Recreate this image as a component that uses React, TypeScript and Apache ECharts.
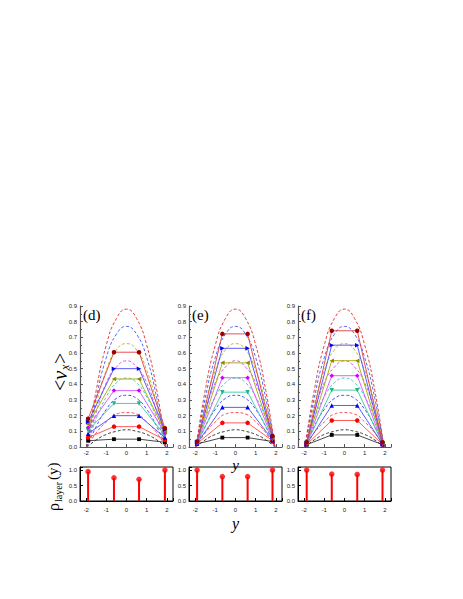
import React, { useEffect, useRef } from 'react';
import * as echarts from 'echarts';

// ---------- data ----------
const PANEL_NAMES = ['(d)', '(e)', '(f)'];

// dashed theory profiles (identical in the three panels), sampled along y
const CURVE_Y = [-1.95, -1.5, -1.0, -0.5, 0, 0.5, 1.0, 1.5, 1.95];
const CURVE_011 = [0, 0.045, 0.08, 0.1, 0.11, 0.1, 0.08, 0.045, 0];
const CURVE_022 = [0, 0.09, 0.16, 0.21, 0.22, 0.21, 0.16, 0.09, 0];
const CURVE_033 = [0, 0.13, 0.24, 0.31, 0.33, 0.31, 0.24, 0.13, 0];
const CURVE_044 = [0, 0.18, 0.32, 0.41, 0.44, 0.41, 0.32, 0.18, 0];
const CURVE_055 = [0, 0.22, 0.41, 0.51, 0.55, 0.51, 0.41, 0.22, 0];
const CURVE_066 = [0, 0.27, 0.49, 0.62, 0.66, 0.62, 0.49, 0.27, 0];
const CURVE_077 = [0, 0.31, 0.57, 0.72, 0.77, 0.72, 0.57, 0.31, 0];
const CURVE_088 = [0, 0.36, 0.65, 0.82, 0.88, 0.82, 0.65, 0.36, 0];
const CURVES = [CURVE_011, CURVE_022, CURVE_033, CURVE_044, CURVE_055, CURVE_066, CURVE_077, CURVE_088];

// layer positions (y) for each panel
const LAYER_Y_D = [-1.9, -0.62, 0.62, 1.9];
const LAYER_Y_E = [-1.9, -0.65, 0.6, 1.83];
const LAYER_Y_F = [-1.87, -0.63, 0.63, 1.88];

// simulated <v_x> per layer, series from bottom (square) to top (dark red)
const VX_D = [
  [0.04, 0.05, 0.05, 0.03],
  [0.06, 0.13, 0.13, 0.045],
  [0.085, 0.2, 0.2, 0.06],
  [0.105, 0.278, 0.278, 0.075],
  [0.125, 0.36, 0.36, 0.09],
  [0.145, 0.434, 0.434, 0.1],
  [0.16, 0.5, 0.5, 0.11],
  [0.18, 0.605, 0.605, 0.12],
];
const VX_E = [
  [0.02, 0.06, 0.06, 0.035],
  [0.022, 0.154, 0.154, 0.04],
  [0.024, 0.253, 0.253, 0.045],
  [0.026, 0.35, 0.35, 0.05],
  [0.028, 0.442, 0.442, 0.055],
  [0.03, 0.537, 0.537, 0.06],
  [0.032, 0.63, 0.63, 0.065],
  [0.035, 0.722, 0.722, 0.07],
];
const VX_F = [
  [0.015, 0.077, 0.077, 0.015],
  [0.017, 0.169, 0.169, 0.017],
  [0.019, 0.265, 0.265, 0.019],
  [0.021, 0.363, 0.363, 0.021],
  [0.023, 0.455, 0.455, 0.023],
  [0.025, 0.551, 0.551, 0.025],
  [0.027, 0.65, 0.65, 0.027],
  [0.03, 0.742, 0.742, 0.03],
];

// layer densities
const RHO_D = [0.95, 0.75, 0.7, 1.0];
const RHO_E = [1.0, 0.79, 0.79, 1.0];
const RHO_F = [1.0, 0.87, 0.86, 1.0];

const PANELS = [
  { ys: LAYER_Y_D, vx: VX_D, rho: RHO_D },
  { ys: LAYER_Y_E, vx: VX_E, rho: RHO_E },
  { ys: LAYER_Y_F, vx: VX_F, rho: RHO_F },
];

// ---------- styles ----------
const CURVE_COLORS = ['#222222', '#ff3b3b', '#3a3aff', '#2ccaa0', '#d23cff', '#b4b400', '#3a55ff', '#e02a2a'];
const MARKERS = [
  { symbol: 'rect', rotate: 0, color: '#000000', line: '#333333' },
  { symbol: 'circle', rotate: 0, color: '#ff0000', line: '#ff4a4a' },
  { symbol: 'triangle', rotate: 0, color: '#0000ff', line: '#4a4aff' },
  { symbol: 'triangle', rotate: 180, color: '#20b48c', line: '#3cc8a0' },
  { symbol: 'diamond', rotate: 0, color: '#cc00ff', line: '#d850ff' },
  { symbol: 'triangle', rotate: 90, color: '#8c8c00', line: '#a8a800' },
  { symbol: 'triangle', rotate: -90, color: '#0000ff', line: '#4a4aff' },
  { symbol: 'circle', rotate: 0, color: '#990000', line: '#e04040' },
];

const LEFTS = [80, 189, 298];
const PW = 93;
const TOP_T = 306;
const TOP_H = 141;
const BOT_T = 467;
const BOT_H = 34;
const SERIF = '"Liberation Serif", "DejaVu Serif", serif';
const SANS = '"Liberation Sans", Arial, sans-serif';

function buildOption() {
  const grid: any[] = [];
  const xAxis: any[] = [];
  const yAxis: any[] = [];
  const series: any[] = [];

  const tickFmtX = (v: number) => (Math.abs(v - Math.round(v)) < 1e-6 ? String(Math.round(v)) : '');

  for (let p = 0; p < 3; p++) {
    grid.push({ left: LEFTS[p], top: TOP_T, width: PW, height: TOP_H, containLabel: false });
    grid.push({
      left: LEFTS[p], top: BOT_T, width: PW, height: BOT_H, containLabel: false,
      show: true, borderColor: '#000', borderWidth: 1,
    });
  }

  for (let p = 0; p < 3; p++) {
    const gTop = p * 2;
    const gBot = p * 2 + 1;
    const axisCol = '#555';
    xAxis.push({
      gridIndex: gTop, type: 'value', min: -2.3, max: 2.3, splitNumber: 5, minInterval: 1, maxInterval: 1,
      axisLine: { onZero: false, lineStyle: { color: axisCol, width: 1.2 } },
      axisTick: { inside: true, length: 3, lineStyle: { color: axisCol } },
      axisLabel: { fontSize: 6, color: '#222', margin: 3, fontFamily: SANS, formatter: tickFmtX },
      splitLine: { show: false },
      name: p === 1 ? 'y' : '', nameLocation: 'middle', nameGap: 10, nameMoveOverlap: false,
      nameTextStyle: { fontFamily: SERIF, fontStyle: 'italic', fontSize: 15, color: '#000' },
    });
    yAxis.push({
      gridIndex: gTop, type: 'value', min: 0, max: 0.9, interval: 0.1,
      axisLine: { show: true, onZero: false, lineStyle: { color: axisCol, width: 1.2 } },
      axisTick: { show: true, inside: true, length: 3, lineStyle: { color: axisCol } },
      minorTick: { show: true, splitNumber: 2, length: 2, lineStyle: { color: axisCol } },
      axisLabel: { fontSize: 6, color: '#222', margin: 3, fontFamily: SANS, formatter: (v: number) => v.toFixed(1) },
      splitLine: { show: false },
    });
    xAxis.push({
      gridIndex: gBot, type: 'value', min: -2.3, max: 2.3, splitNumber: 5, minInterval: 1, maxInterval: 1,
      axisLine: { onZero: false, lineStyle: { color: '#000', width: 1 } },
      axisTick: { inside: true, length: 3, lineStyle: { color: '#000' } },
      axisLabel: { fontSize: 6, color: '#222', margin: 6, fontFamily: SANS, formatter: tickFmtX },
      splitLine: { show: false },
      name: p === 1 ? 'y' : '', nameLocation: 'middle', nameGap: 14, nameMoveOverlap: false,
      nameTextStyle: { fontFamily: SERIF, fontStyle: 'italic', fontSize: 16, color: '#000' },
    });
    yAxis.push({
      gridIndex: gBot, type: 'value', min: 0, max: 1.1, interval: 0.5,
      axisLine: { show: true, onZero: false, lineStyle: { color: '#000', width: 1 } },
      axisTick: { show: true, inside: true, length: 3, lineStyle: { color: '#000' } },
      axisLabel: {
        fontSize: 6, color: '#222', margin: 3, fontFamily: SANS,
        formatter: (v: number) => (Math.abs(v * 2 - Math.round(v * 2)) < 1e-6 ? v.toFixed(1) : ''),
      },
      splitLine: { show: false },
    });

    const ax = p * 2;
    CURVES.forEach((c, i) => {
      series.push({
        type: 'line', xAxisIndex: ax, yAxisIndex: ax, silent: true,
        data: CURVE_Y.map((y, j) => [y, c[j]]),
        smooth: true, symbol: 'none', showSymbol: false,
        lineStyle: { type: [3, 2], width: 0.9, color: CURVE_COLORS[i] },
        z: 2,
      });
    });
    const panel = PANELS[p];
    panel.vx.forEach((vals, i) => {
      const m = MARKERS[i];
      series.push({
        type: 'line', xAxisIndex: ax, yAxisIndex: ax,
        data: panel.ys.map((y, j) => [y, vals[j]]),
        symbol: m.symbol, symbolRotate: m.rotate, symbolSize: m.symbol === 'rect' ? 3.8 : 4.5,
        showSymbol: true,
        itemStyle: { color: m.color },
        lineStyle: { width: 0.9, color: m.line },
        z: 3,
      });
    });
    series.push({
      type: 'bar', xAxisIndex: ax + 1, yAxisIndex: ax + 1,
      data: panel.ys.map((y, j) => [y, panel.rho[j]]),
      barWidth: 2, itemStyle: { color: '#ff0000' },
    });
    series.push({
      type: 'scatter', xAxisIndex: ax + 1, yAxisIndex: ax + 1,
      data: panel.ys.map((y, j) => [y, panel.rho[j]]),
      symbol: 'circle', symbolSize: 5.5, itemStyle: { color: '#ff0000' }, z: 4,
    });
  }

  const graphic: any[] = PANEL_NAMES.map((t, p) => ({
    type: 'text', left: LEFTS[p] + 3, top: TOP_T + 1,
    style: { text: t, font: `15px ${SERIF}`, fill: '#000' },
  }));

  graphic.push({
    type: 'group', x: 50, y: 391, rotation: Math.PI / 2,
    children: [
      { type: 'text', x: 0, y: 0, style: { text: '<', font: `20px ${SERIF}`, fill: '#000' } },
      { type: 'text', x: 11, y: -1, style: { text: 'v', font: `italic 21px ${SERIF}`, fill: '#000' } },
      { type: 'text', x: 21, y: 9, style: { text: 'x', font: `italic 12px ${SERIF}`, fill: '#000' } },
      { type: 'text', x: 27, y: 0, style: { text: '>', font: `20px ${SERIF}`, fill: '#000' } },
    ],
  });
  graphic.push({
    type: 'group', x: 45, y: 511, rotation: Math.PI / 2,
    children: [
      { type: 'text', x: 0, y: 0, style: { text: 'ρ', font: `16px ${SERIF}`, fill: '#000' } },
      { type: 'text', x: 9, y: 8, style: { text: 'layer', font: `10px ${SERIF}`, fill: '#000' } },
      { type: 'text', x: 31, y: 0, style: { text: '(y)', font: `15px ${SERIF}`, fill: '#000' } },
    ],
  });

  return {
    animation: false,
    backgroundColor: '#ffffff',
    grid, xAxis, yAxis, series, graphic,
  };
}

export default function App() {
  const ref = useRef<HTMLDivElement>(null);
  useEffect(() => {
    if (!ref.current) return;
    const chart = echarts.init(ref.current, undefined, { renderer: 'svg' });
    chart.setOption(buildOption() as any);
    return () => chart.dispose();
  }, []);
  return (
    <div
      ref={ref}
      style={{ position: 'fixed', left: 0, top: 0, width: 463, height: 599, background: '#fff' }}
    />
  );
}
